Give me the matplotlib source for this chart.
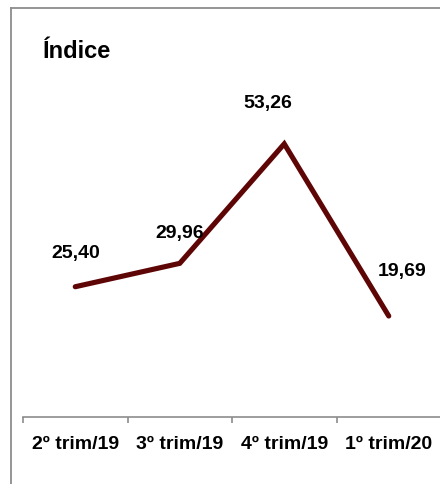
import matplotlib
matplotlib.use("Agg")
import matplotlib.pyplot as plt
from matplotlib.lines import Line2D

categories = ["2º trim/19", "3º trim/19", "4º trim/19", "1º trim/20"]
values = [25.40, 29.96, 53.26, 19.69]
value_labels = ["25,40", "29,96", "53,26", "19,69"]
title = "Índice"

# label offsets in pixels (dx, dy) from each point
label_offsets = [(0, 33), (0, 30), (-16, 40), (13, 45)]

plt.rcParams['font.family'] = ['Liberation Sans Narrow', 'Liberation Sans', 'DejaVu Sans']
plt.rcParams['font.weight'] = 'bold'

W, H = 440, 484
fig = plt.figure(figsize=(W / 100, H / 100), dpi=100)

# outer gray frame (left and top edges visible)
frame_c = '#8c8c8c'
fig.add_artist(Line2D([11 / W, 11 / W], [0, 1 - 8 / H], color=frame_c, lw=1.3, transform=fig.transFigure))
fig.add_artist(Line2D([11 / W, 1], [1 - 8 / H, 1 - 8 / H], color=frame_c, lw=1.3, transform=fig.transFigure))

ax = fig.add_axes([23 / W, 1 - 417 / H, 418 / W, 359 / H])
x = list(range(len(categories)))
ax.plot(x, values, color='#5e0505', lw=3.7, solid_capstyle='round', solid_joinstyle='miter')

for xi, v, lab, (dx, dy) in zip(x, values, value_labels, label_offsets):
    ax.annotate(lab, (xi, v), xytext=(dx * 0.72, dy * 0.72), textcoords='offset points',
                ha='center', va='center', fontsize=14, fontweight='bold', color='black')

ax.set_xlim(-0.5, 3.5)
ax.set_ylim(0, 70)
ax.set_xticks([-0.5, 0.5, 1.5, 2.5, 3.5])
ax.set_xticklabels([])
ax.set_xticks(x, minor=True)
ax.set_xticklabels(categories, minor=True, fontsize=14, fontweight='bold')
ax.tick_params(axis='x', which='major', length=4.5, color=frame_c, width=1.2, direction='out')
ax.tick_params(axis='x', which='minor', length=0, pad=14)
ax.set_yticks([])
for s in ['left', 'right', 'top']:
    ax.spines[s].set_visible(False)
ax.spines['bottom'].set_color(frame_c)
ax.spines['bottom'].set_linewidth(1.2)
ax.patch.set_alpha(0)

fig.text(43 / W, 1 - 51 / H, title, fontsize=17, fontweight='bold', ha='left', va='center')

fig.savefig('out.png', dpi=100)
